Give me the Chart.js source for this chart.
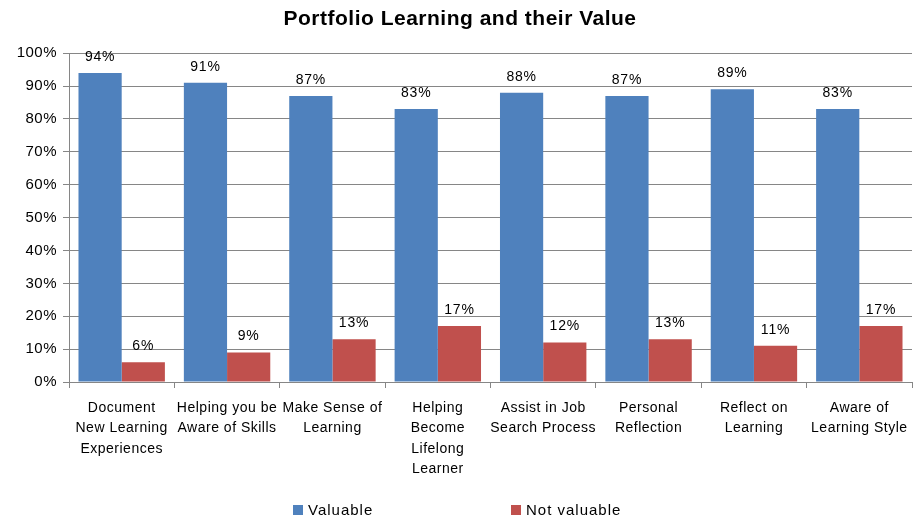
<!DOCTYPE html>
<html>
<head>
<meta charset="utf-8">
<script src="https://cdn.jsdelivr.net/npm/chart.js@4/dist/chart.umd.min.js"></script>
<style>
  html,body{margin:0;padding:0;background:#fff;}
  #wrap{position:relative;width:917px;height:519px;}
  #legend{position:absolute;left:0;top:501px;width:917px;height:20px;font-family:"Liberation Sans",Arial,sans-serif;font-size:15px;color:#000;letter-spacing:1px;}
  .item{position:absolute;top:0;display:flex;align-items:center;}
  .box{width:10px;height:10px;margin-right:5px;}
</style>
</head>
<body>
<div id="wrap">
<canvas id="c" width="917" height="519"></canvas>
<div id="legend">
  <div class="item" style="left:293px;"><span class="box" style="background:#4F81BD"></span>Valuable</div>
  <div class="item" style="left:511px;"><span class="box" style="background:#C0504D"></span>Not valuable</div>
</div>
</div>
<script>
const categories = [
  ["Document", "New Learning", "Experiences"],
  ["Helping you be", "Aware of Skills"],
  ["Make Sense of", "Learning"],
  ["Helping", "Become", "Lifelong", "Learner"],
  ["Assist in Job", "Search Process"],
  ["Personal", "Reflection"],
  ["Reflect on", "Learning"],
  ["Aware of", "Learning Style"]
];
const valuable = [94, 91, 87, 83, 88, 87, 89, 83];
const notValuable = [6, 9, 13, 17, 12, 13, 11, 17];
const seriesNames = ["Valuable", "Not valuable"];
const yTicks = [0, 10, 20, 30, 40, 50, 60, 70, 80, 90, 100];

const FONT = '"Liberation Sans", Arial, sans-serif';

const spacingPlugin = {
  id: 'spacing',
  beforeLayout(chart) { chart.ctx.letterSpacing = '0.5px'; },
  beforeDraw(chart) { chart.ctx.letterSpacing = '0.5px'; }
};

const labelPlugin = {
  id: 'barLabels',
  afterDatasetsDraw(chart) {
    const ctx = chart.ctx;
    ctx.save();
    ctx.font = '14px ' + FONT;
    ctx.letterSpacing = '0.8px';
    ctx.fillStyle = '#000';
    ctx.textAlign = 'center';
    ctx.textBaseline = 'bottom';
    chart.data.datasets.forEach((ds, i) => {
      const meta = chart.getDatasetMeta(i);
      meta.data.forEach((bar, j) => {
        ctx.fillText(ds.data[j] + '%', bar.x, bar.y - 9);
      });
    });
    ctx.restore();
  }
};

new Chart(document.getElementById('c'), {
  type: 'bar',
  data: {
    labels: categories,
    datasets: [
      { label: seriesNames[0], data: valuable, backgroundColor: '#4F81BD', borderWidth: 0 },
      { label: seriesNames[1], data: notValuable, backgroundColor: '#C0504D', borderWidth: 0 }
    ]
  },
  options: {
    responsive: false,
    animation: false,
    layout: { padding: { left: 8, right: 5, top: 5, bottom: 35 } },
    datasets: { bar: { categoryPercentage: 0.82, barPercentage: 1.0 } },
    plugins: {
      legend: { display: false },
      tooltip: { enabled: false },
      title: {
        display: true,
        text: 'Portfolio Learning and their Value',
        color: '#000',
        font: { family: FONT, size: 21, weight: 'bold' },
        padding: { top: 2, bottom: 21 }
      }
    },
    scales: {
      x: {
        afterFit(s) { s.height = 102; s.paddingRight = 0; },
        border: { display: true, color: '#868686', width: 1 },
        grid: { display: true, drawOnChartArea: false, drawTicks: true, tickLength: 6, color: '#868686', offset: true },
        ticks: { color: '#000', font: { family: FONT, size: 14, lineHeight: 1.45 }, maxRotation: 0, autoSkip: false, padding: 10 }
      },
      y: {
        min: 0, max: 100,
        afterFit(s) { s.width = 61; },
        afterBuildTicks(s) { s.ticks = yTicks.map(v => ({ value: v })); },
        border: { display: true, color: '#868686', width: 1 },
        grid: { color: '#868686', tickLength: 6, lineWidth: 1 },
        ticks: { color: '#000', font: { family: FONT, size: 15 }, padding: 6, callback: v => v + '%' }
      }
    }
  },
  plugins: [spacingPlugin, labelPlugin]
});
</script>
</body>
</html>
